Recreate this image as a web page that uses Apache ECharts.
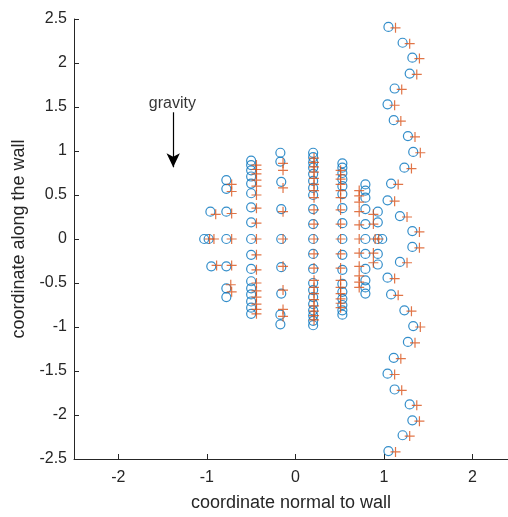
<!DOCTYPE html>
<html>
<head>
<meta charset="utf-8">
<script src="https://cdn.jsdelivr.net/npm/echarts@6/dist/echarts.min.js"></script>
<style>
  html, body { margin: 0; padding: 0; background: #fff; }
  #chart { width: 508px; height: 517px; }
</style>
</head>
<body>
<div id="chart"></div>
<script>
// Particle positions: circles = initial configuration, plus signs = displaced configuration.

// Inner cluster, initial positions [x, y]
const innerCircles = [
  [-0.96, 0.31], [-1.03, 0], [-0.98, 0], [-0.95, -0.31],
  [-0.78, 0.67], [-0.78, 0.57], [-0.78, 0.31], [-0.78, 0], [-0.78, -0.31], [-0.78, -0.56], [-0.78, -0.66],
  [-0.50, 0.89], [-0.50, 0.84], [-0.50, 0.78], [-0.50, 0.71], [-0.50, 0.63], [-0.50, 0.52], [-0.50, 0.36], [-0.50, 0.19],
  [-0.50, 0], [-0.50, -0.18], [-0.50, -0.34], [-0.50, -0.48], [-0.50, -0.56], [-0.50, -0.63], [-0.50, -0.71], [-0.50, -0.78], [-0.50, -0.85],
  [-0.17, 0.98], [-0.17, 0.88], [-0.16, 0.65], [-0.16, 0.34], [-0.16, 0], [-0.16, -0.32], [-0.16, -0.62], [-0.17, -0.86], [-0.17, -0.97],
  [0.20, 0.98], [0.20, 0.93], [0.20, 0.87], [0.20, 0.81], [0.20, 0.74], [0.20, 0.66], [0.20, 0.58], [0.20, 0.50], [0.20, 0.34], [0.20, 0.17],
  [0.20, 0], [0.20, -0.17], [0.20, -0.34], [0.20, -0.50], [0.20, -0.58], [0.20, -0.66], [0.20, -0.74], [0.20, -0.81], [0.20, -0.87], [0.20, -0.93], [0.20, -0.98],
  [0.53, 0.86], [0.53, 0.81], [0.53, 0.75], [0.53, 0.68], [0.53, 0.60], [0.53, 0.51], [0.53, 0.35], [0.53, 0.18],
  [0.53, 0], [0.53, -0.18], [0.53, -0.35], [0.53, -0.51], [0.53, -0.60], [0.53, -0.68], [0.53, -0.75], [0.53, -0.81], [0.53, -0.86],
  [0.79, 0.62], [0.79, 0.55], [0.79, 0.47], [0.79, 0.34], [0.79, 0.17], [0.79, 0], [0.79, -0.17], [0.79, -0.34], [0.79, -0.47], [0.79, -0.55], [0.79, -0.62],
  [0.93, 0.31], [0.93, 0.19], [0.93, 0], [0.98, 0], [0.93, -0.17], [0.93, -0.29]
];

// Inner cluster, displaced positions [x, y]
const innerPluses = [
  [-0.90, 0.28], [-0.97, 0], [-0.92, 0], [-0.89, -0.30],
  [-0.72, 0.62], [-0.72, 0.54], [-0.72, 0.29], [-0.72, 0], [-0.72, -0.30], [-0.73, -0.52], [-0.72, -0.60],
  [-0.44, 0.84], [-0.44, 0.79], [-0.44, 0.74], [-0.44, 0.67], [-0.44, 0.60], [-0.44, 0.50], [-0.44, 0.35], [-0.44, 0.18],
  [-0.44, 0], [-0.44, -0.18], [-0.44, -0.35], [-0.44, -0.50], [-0.44, -0.59], [-0.44, -0.66], [-0.44, -0.74], [-0.44, -0.80], [-0.44, -0.85],
  [-0.14, 0.86], [-0.14, 0.78], [-0.14, 0.58], [-0.14, 0.31], [-0.14, 0], [-0.14, -0.31], [-0.14, -0.58], [-0.14, -0.80], [-0.14, -0.88],
  [0.21, 0.92], [0.21, 0.87], [0.21, 0.82], [0.21, 0.76], [0.21, 0.69], [0.21, 0.62], [0.21, 0.55], [0.21, 0.47], [0.21, 0.33], [0.21, 0.17],
  [0.21, 0], [0.21, -0.17], [0.21, -0.33], [0.21, -0.47], [0.21, -0.55], [0.21, -0.62], [0.21, -0.69], [0.21, -0.76], [0.21, -0.82], [0.21, -0.87], [0.21, -0.92],
  [0.51, 0.78], [0.51, 0.73], [0.51, 0.68], [0.51, 0.62], [0.51, 0.55], [0.51, 0.47], [0.51, 0.33], [0.51, 0.17],
  [0.51, 0], [0.51, -0.17], [0.51, -0.33], [0.51, -0.47], [0.51, -0.55], [0.51, -0.62], [0.51, -0.68], [0.51, -0.73], [0.51, -0.78],
  [0.72, 0.55], [0.72, 0.49], [0.72, 0.42], [0.72, 0.31], [0.72, 0.16], [0.72, 0], [0.72, -0.16], [0.72, -0.31], [0.72, -0.42], [0.72, -0.49], [0.72, -0.55],
  [0.88, 0.28], [0.88, 0.17], [0.90, 0], [0.94, 0], [0.88, -0.16], [0.88, -0.27]
];

// Outer wavy wall layer, initial positions
const outerCircles = [
  [1.05, 2.41], [1.21, 2.23], [1.32, 2.06], [1.29, 1.88], [1.12, 1.71], [1.04, 1.53], [1.11, 1.35],
  [1.27, 1.17], [1.33, 0.99], [1.23, 0.81], [1.08, 0.63], [1.04, 0.44], [1.18, 0.26], [1.32, 0.09],
  [1.32, -0.09], [1.18, -0.26], [1.04, -0.44], [1.08, -0.63], [1.23, -0.81], [1.33, -0.99], [1.27, -1.17],
  [1.11, -1.35], [1.04, -1.53], [1.12, -1.71], [1.29, -1.88], [1.32, -2.06], [1.21, -2.23], [1.05, -2.41]
];

// Outer wavy wall layer, displaced positions
const outerPluses = [
  [1.13, 2.40], [1.29, 2.22], [1.40, 2.05], [1.37, 1.87], [1.20, 1.70], [1.12, 1.52], [1.19, 1.34],
  [1.35, 1.16], [1.41, 0.98], [1.31, 0.80], [1.16, 0.62], [1.12, 0.43], [1.26, 0.25], [1.40, 0.08],
  [1.40, -0.10], [1.26, -0.27], [1.12, -0.45], [1.16, -0.64], [1.31, -0.82], [1.41, -1.00], [1.35, -1.18],
  [1.19, -1.36], [1.12, -1.54], [1.20, -1.72], [1.37, -1.89], [1.40, -2.07], [1.29, -2.24], [1.13, -2.42]
];

// Axis ticks
const xTicks = [-2, -1, 0, 1, 2];

// Gravity annotation (data coordinates)
const gravityLabel = [-1.39, 1.54];
const gravityArrow = [[-1.38, 1.44], [-1.38, 0.815]];

const BLUE = '#0072BD';
const ORANGE = '#D95319';
const INK = '#262626';
const FONT = 'Liberation Sans, Arial, sans-serif';
const PLUS = 'path://M0,5L10,5M5,0L5,10';

const chart = echarts.init(document.getElementById('chart'), null, { renderer: 'canvas' });

chart.setOption({
  animation: false,
  backgroundColor: '#fff',
  grid: { left: 74, right: 0, top: 19, bottom: 56 },
  xAxis: {
    type: 'value',
    min: -2.5,
    max: 2.4,
    name: 'coordinate normal to wall',
    nameLocation: 'middle',
    nameGap: 35,
    nameTextStyle: { fontFamily: FONT, fontSize: 18, color: INK },
    axisLine: { show: true, onZero: false, lineStyle: { color: INK, width: 1 } },
    axisTick: { show: true, inside: true, length: 5, customValues: xTicks, lineStyle: { color: INK } },
    axisLabel: { customValues: xTicks, fontFamily: FONT, fontSize: 16, color: INK, margin: 11 },
    splitLine: { show: false }
  },
  yAxis: {
    type: 'value',
    min: -2.5,
    max: 2.5,
    interval: 0.5,
    name: 'coordinate along the wall',
    nameLocation: 'middle',
    nameGap: 41,
    nameTextStyle: { fontFamily: FONT, fontSize: 18, color: INK },
    axisLine: { show: true, onZero: false, lineStyle: { color: INK, width: 1 } },
    axisTick: { show: true, inside: true, length: 5, lineStyle: { color: INK } },
    axisLabel: { fontFamily: FONT, fontSize: 16, color: INK, margin: 7 },
    splitLine: { show: false }
  },
  series: [
    {
      name: 'initial',
      type: 'scatter',
      data: innerCircles.concat(outerCircles),
      symbol: 'circle',
      symbolSize: 9,
      itemStyle: { color: 'none', borderColor: BLUE, borderWidth: 1.2 },
      z: 2
    },
    {
      name: 'displaced',
      type: 'scatter',
      data: innerPluses.concat(outerPluses),
      symbol: PLUS,
      symbolSize: 10,
      itemStyle: { color: 'none', borderColor: ORANGE, borderWidth: 1.2 },
      z: 3
    },
    {
      name: 'gravity',
      type: 'scatter',
      data: [gravityLabel],
      symbolSize: 0,
      silent: true,
      label: {
        show: true,
        position: 'inside',
        formatter: 'gravity',
        fontFamily: FONT,
        fontSize: 16,
        color: '#000'
      },
      markLine: {
        silent: true,
        animation: false,
        symbol: ['none', 'arrow'],
        symbolSize: [10, 14],
        label: { show: false },
        lineStyle: { color: '#000', width: 1.2, type: 'solid' },
        data: [[
          { coord: gravityArrow[0] },
          { coord: gravityArrow[1] }
        ]]
      },
      z: 4
    }
  ]
});
</script>
</body>
</html>
